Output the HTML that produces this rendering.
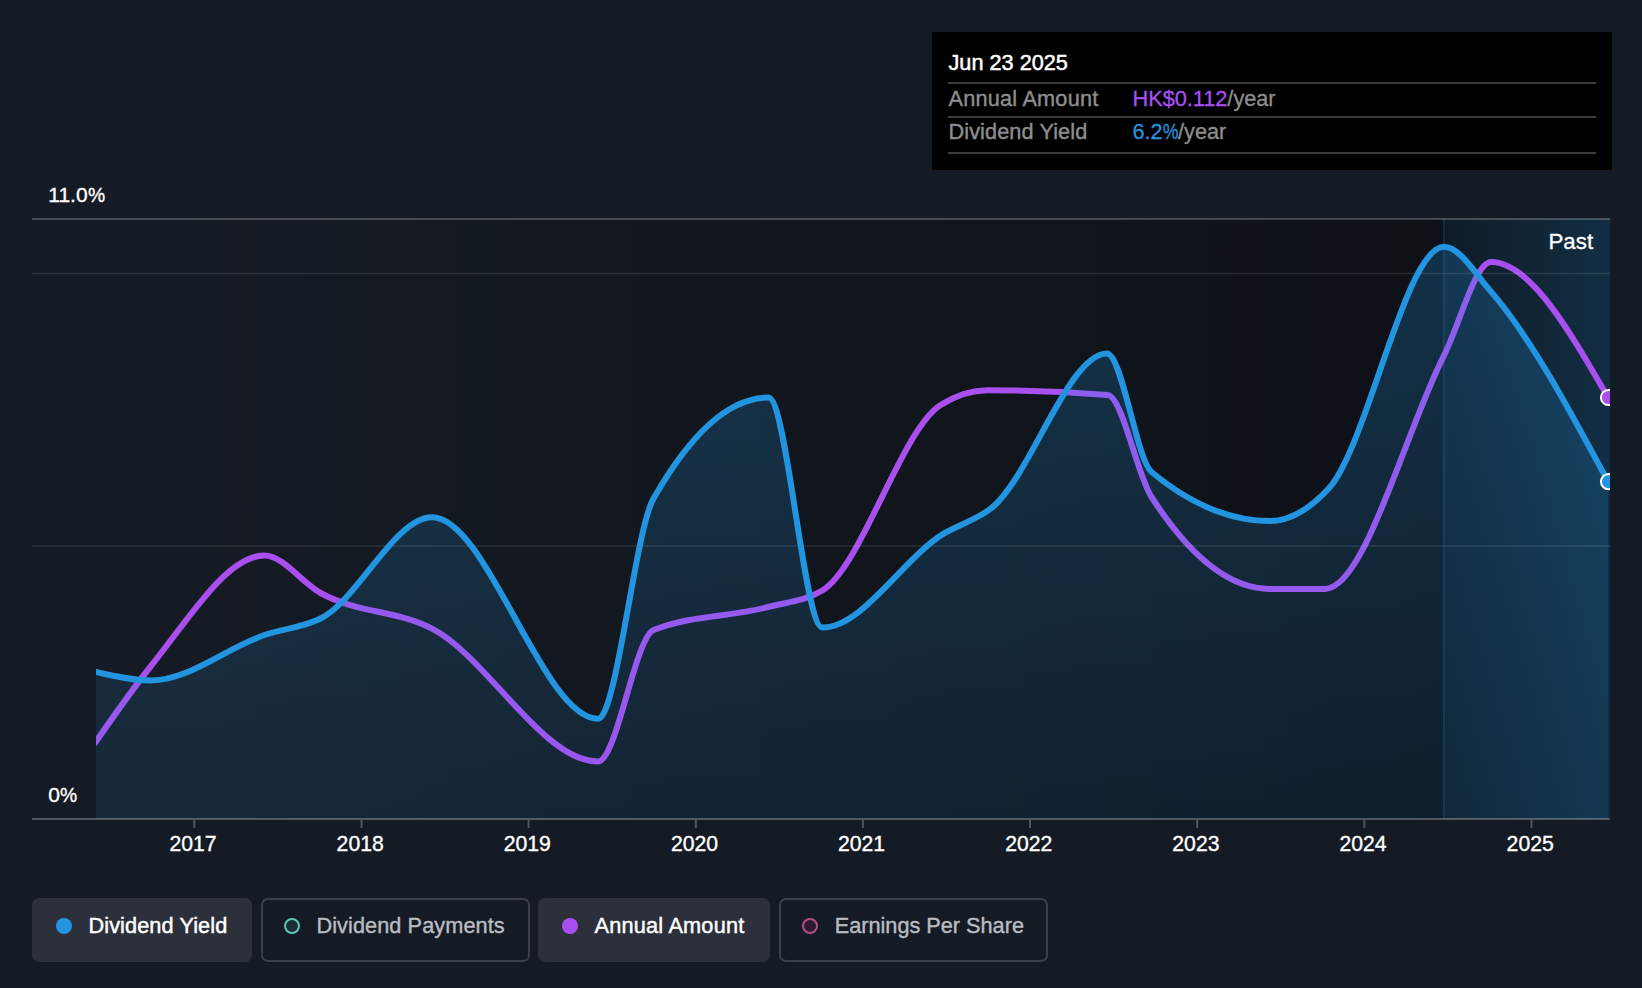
<!DOCTYPE html>
<html><head><meta charset="utf-8"><title>Dividend chart</title>
<style>
html,body{margin:0;padding:0;}
body{width:1642px;height:988px;background:#151b24;position:relative;overflow:hidden;font-family:"Liberation Sans",sans-serif;}
.t{position:absolute;white-space:nowrap;color:#fff;font-size:21px;line-height:24px;}
.yr{font-size:21.2px;-webkit-text-stroke:0.35px #fff;}
.ax{font-size:21px;-webkit-text-stroke:0.35px #fff;}
.tip{position:absolute;left:932px;top:32px;width:680px;height:138px;background:#000;}
.tip .ln{position:absolute;left:16px;width:648px;height:2px;background:#3c3c3c;}
.tt{position:absolute;white-space:nowrap;font-size:21.7px;line-height:24px;}
.chip{position:absolute;top:898px;height:64px;border-radius:7px;box-sizing:border-box;}
.chip.on{background:#2c303a;}
.chip.off{border:2px solid #3a3f4a;}
.lg{position:absolute;white-space:nowrap;font-size:21.7px;line-height:24px;top:914px;}
.dot{position:absolute;width:16px;height:16px;border-radius:50%;top:918px;box-sizing:border-box;}
</style></head><body>
<svg width="1642" height="988" viewBox="0 0 1642 988" style="position:absolute;left:0;top:0">
<defs>
<linearGradient id="pbg" x1="0" y1="0" x2="1" y2="0"><stop offset="0" stop-color="#000" stop-opacity="0"/><stop offset="0.15" stop-color="#000" stop-opacity="0.02"/><stop offset="1" stop-color="#000" stop-opacity="0.36"/></linearGradient>
<linearGradient id="af" x1="0" y1="0" x2="0" y2="1"><stop offset="0" stop-color="#2394df" stop-opacity="0.24"/><stop offset="1" stop-color="#2394df" stop-opacity="0.10"/></linearGradient>
<linearGradient id="past" x1="0" y1="0" x2="1" y2="0"><stop offset="0" stop-color="#2394df" stop-opacity="0.08"/><stop offset="1" stop-color="#2394df" stop-opacity="0.22"/></linearGradient>
<clipPath id="cp"><rect x="96" y="217" width="1514" height="602"/></clipPath>
</defs>
<rect x="32" y="219" width="1411.5" height="600" fill="url(#pbg)"/>
<rect x="1443.5" y="219" width="166.5" height="600" fill="#000" fill-opacity="0.36"/>
<rect x="1443.5" y="219" width="166.5" height="600" fill="url(#past)"/>
<rect x="1443.0" y="219" width="1.5" height="600" fill="#2394df" fill-opacity="0.22"/>
<g clip-path="url(#cp)">
<path d="M96.00,741.50 C114.33,715.14 132.67,688.78 151.00,666.00 C188.83,618.99 226.67,555.50 264.50,555.50 C283.20,555.50 301.90,582.68 320.60,593.00 C357.73,613.49 394.87,609.65 432.00,628.70 C487.33,657.09 542.67,761.50 598.00,761.50 C616.53,761.50 635.07,637.45 653.60,630.00 C691.73,614.67 729.87,617.33 768.00,607.00 C786.10,602.10 804.20,601.50 822.30,590.50 C861.73,566.53 901.17,429.94 940.60,405.00 C956.20,395.13 971.80,390.20 987.40,390.20 C1027.47,390.20 1067.53,391.80 1107.60,395.00 C1122.23,396.17 1136.87,474.30 1151.50,497.00 C1191.00,558.27 1230.50,588.90 1270.00,588.90 C1288.33,588.90 1306.67,588.90 1325.00,588.90 C1364.67,588.90 1404.33,433.79 1444.00,355.30 C1459.67,324.30 1475.33,262.00 1491.00,262.00 C1530.00,262.00 1569.00,329.75 1608.00,397.50" fill="none" stroke="#a94ff0" stroke-width="6" stroke-linejoin="round" stroke-linecap="square"/>
<path d="M96.00,672.00 C114.33,676.20 132.67,680.40 151.00,680.40 C189.33,680.40 227.67,647.04 266.00,634.50 C284.20,628.55 302.40,627.52 320.60,618.50 C357.73,600.09 394.87,517.20 432.00,517.20 C487.33,517.20 542.67,718.70 598.00,718.70 C616.50,718.70 635.00,530.97 653.50,498.50 C691.87,431.17 730.23,397.50 768.60,397.50 C786.50,397.50 804.40,627.50 822.30,627.50 C862.90,627.50 903.50,557.64 944.10,533.40 C959.63,524.12 975.17,520.51 990.70,508.70 C1029.47,479.22 1068.23,353.40 1107.00,353.40 C1121.83,353.40 1136.67,459.73 1151.50,472.00 C1191.00,504.67 1230.50,521.00 1270.00,521.00 C1289.50,521.00 1309.00,509.58 1328.50,488.70 C1367.00,447.48 1405.50,246.80 1444.00,246.80 C1459.67,246.80 1475.33,273.66 1491.00,291.60 C1530.00,336.27 1569.00,408.94 1608.00,481.60 L1608.00,819 L96.00,819 Z" fill="url(#af)"/>
</g>
<rect x="32" y="218" width="1578" height="2" fill="#fff" fill-opacity="0.22"/>
<rect x="32" y="272.7" width="1578" height="1.6" fill="#fff" fill-opacity="0.10"/>
<rect x="32" y="545.3" width="1578" height="1.6" fill="#fff" fill-opacity="0.10"/>
<g clip-path="url(#cp)">
<path d="M96.00,672.00 C114.33,676.20 132.67,680.40 151.00,680.40 C189.33,680.40 227.67,647.04 266.00,634.50 C284.20,628.55 302.40,627.52 320.60,618.50 C357.73,600.09 394.87,517.20 432.00,517.20 C487.33,517.20 542.67,718.70 598.00,718.70 C616.50,718.70 635.00,530.97 653.50,498.50 C691.87,431.17 730.23,397.50 768.60,397.50 C786.50,397.50 804.40,627.50 822.30,627.50 C862.90,627.50 903.50,557.64 944.10,533.40 C959.63,524.12 975.17,520.51 990.70,508.70 C1029.47,479.22 1068.23,353.40 1107.00,353.40 C1121.83,353.40 1136.67,459.73 1151.50,472.00 C1191.00,504.67 1230.50,521.00 1270.00,521.00 C1289.50,521.00 1309.00,509.58 1328.50,488.70 C1367.00,447.48 1405.50,246.80 1444.00,246.80 C1459.67,246.80 1475.33,273.66 1491.00,291.60 C1530.00,336.27 1569.00,408.94 1608.00,481.60" fill="none" stroke="#2394df" stroke-width="6" stroke-linejoin="round" stroke-linecap="square"/>
<circle cx="1608.5" cy="397.5" r="7.6" fill="#a94ff0" stroke="#fff" stroke-width="2"/>
<circle cx="1608.5" cy="481.6" r="7.6" fill="#2394df" stroke="#fff" stroke-width="2"/>
</g>
<rect x="32" y="818" width="1578" height="2" fill="#fff" fill-opacity="0.26"/>
<rect x="193.3" y="820" width="2" height="8" fill="#fff" fill-opacity="0.26"/>
<rect x="360.5" y="820" width="2" height="8" fill="#fff" fill-opacity="0.26"/>
<rect x="527.6" y="820" width="2" height="8" fill="#fff" fill-opacity="0.26"/>
<rect x="694.8" y="820" width="2" height="8" fill="#fff" fill-opacity="0.26"/>
<rect x="861.9" y="820" width="2" height="8" fill="#fff" fill-opacity="0.26"/>
<rect x="1029.0" y="820" width="2" height="8" fill="#fff" fill-opacity="0.26"/>
<rect x="1196.2" y="820" width="2" height="8" fill="#fff" fill-opacity="0.26"/>
<rect x="1363.3" y="820" width="2" height="8" fill="#fff" fill-opacity="0.26"/>
<rect x="1530.5" y="820" width="2" height="8" fill="#fff" fill-opacity="0.26"/>
</svg>
<div class="t ax" style="left:48.3px;top:182.8px">11.0<span style="display:inline-block;transform:scaleX(0.92);transform-origin:0 50%;margin-right:-1.5px">%</span></div>
<div class="t ax" style="left:48.3px;top:782.6px">0<span style="display:inline-block;transform:scaleX(0.92);transform-origin:0 50%;margin-right:-1.5px">%</span></div>
<div class="t" style="left:1548.5px;top:230px;font-size:22.3px;-webkit-text-stroke:0.3px #fff">Past</div>
<div class="t yr" style="left:153.0px;top:832px;width:80px;text-align:center">2017</div>
<div class="t yr" style="left:320.2px;top:832px;width:80px;text-align:center">2018</div>
<div class="t yr" style="left:487.3px;top:832px;width:80px;text-align:center">2019</div>
<div class="t yr" style="left:654.5px;top:832px;width:80px;text-align:center">2020</div>
<div class="t yr" style="left:821.6px;top:832px;width:80px;text-align:center">2021</div>
<div class="t yr" style="left:988.8px;top:832px;width:80px;text-align:center">2022</div>
<div class="t yr" style="left:1155.9px;top:832px;width:80px;text-align:center">2023</div>
<div class="t yr" style="left:1323.0px;top:832px;width:80px;text-align:center">2024</div>
<div class="t yr" style="left:1490.2px;top:832px;width:80px;text-align:center">2025</div>

<div class="tip">
 <div class="tt" style="left:16.5px;top:18.5px;color:#fff;-webkit-text-stroke:0.5px #fff">Jun 23 2025</div>
 <div class="ln" style="top:50px"></div>
 <div class="tt" style="left:16.5px;top:54.5px;color:#8e8e8e;letter-spacing:0.22px;-webkit-text-stroke:0.4px #8e8e8e">Annual Amount</div>
 <div class="tt" style="left:200.5px;top:54.5px;color:#a94ff0;-webkit-text-stroke:0.3px #a94ff0">HK$0.112<span style="color:#8e8e8e;-webkit-text-stroke:0.3px #8e8e8e">/year</span></div>
 <div class="ln" style="top:83.7px"></div>
 <div class="tt" style="left:16.5px;top:88.3px;color:#8e8e8e;letter-spacing:0.1px;-webkit-text-stroke:0.4px #8e8e8e">Dividend Yield</div>
 <div class="tt" style="left:200.5px;top:88.3px;color:#2394df;-webkit-text-stroke:0.3px #2394df">6.2<span style="display:inline-block;transform:scaleX(0.8);transform-origin:0 50%;margin-right:-3.9px">%</span><span style="color:#8e8e8e;-webkit-text-stroke:0.3px #8e8e8e">/year</span></div>
 <div class="ln" style="top:120.3px"></div>
</div>
<div class="chip on" style="left:32px;width:220px"></div>
<div class="dot" style="left:56px;background:#2394df"></div>
<div class="lg" style="left:88.5px;color:#fff;letter-spacing:0.1px;-webkit-text-stroke:0.45px #fff">Dividend Yield</div>
<div class="chip off" style="left:260.5px;width:269px"></div>
<div class="dot" style="left:283.8px;border:2.7px solid #5ec7b8;background:#1c2e33"></div>
<div class="lg" style="left:316.4px;color:#b9bcc1;letter-spacing:0.09px;-webkit-text-stroke:0.4px #b9bcc1">Dividend Payments</div>
<div class="chip on" style="left:538px;width:232px"></div>
<div class="dot" style="left:562.2px;background:#a94ff0"></div>
<div class="lg" style="left:594.5px;color:#fff;letter-spacing:0.22px;-webkit-text-stroke:0.45px #fff">Annual Amount</div>
<div class="chip off" style="left:778.5px;width:269.5px"></div>
<div class="dot" style="left:801.7px;border:2.7px solid #b44d83;background:#2a1c2c"></div>
<div class="lg" style="left:834.7px;color:#b9bcc1;-webkit-text-stroke:0.4px #b9bcc1">Earnings Per Share</div>
</body></html>
